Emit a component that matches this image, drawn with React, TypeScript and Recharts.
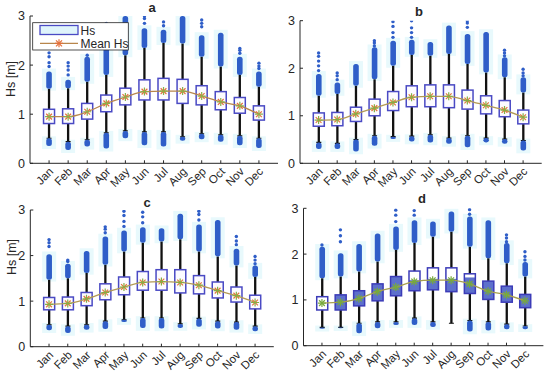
import React from 'react';
import { ComposedChart, Bar, Line, Scatter, XAxis, YAxis } from 'recharts';

const FONT = '"Liberation Sans", Arial, Helvetica, sans-serif';
const MONTHS = ['Jan', 'Feb', 'Mar', 'Apr', 'May', 'Jun', 'Jul', 'Aug', 'Sep', 'Oct', 'Nov', 'Dec'];
const MONTH_X = [1, 2, 3, 4, 5, 6, 7, 8, 9, 10, 11, 12];
const Y_TICKS = [0, 1, 2, 3];

// Panel a
const A_Q1 = [0.81, 0.81, 0.90, 1.05, 1.19, 1.29, 1.29, 1.22, 1.19, 1.09, 1.02, 0.88];
const A_Q3 = [1.10, 1.11, 1.22, 1.39, 1.53, 1.70, 1.73, 1.71, 1.58, 1.46, 1.34, 1.17];
const A_MEAN = [0.95, 0.95, 1.05, 1.22, 1.35, 1.46, 1.47, 1.47, 1.37, 1.25, 1.17, 1.00];
const A_HI = [1.52, 1.53, 1.66, 1.80, 2.20, 2.35, 2.45, 2.44, 2.17, 1.97, 1.80, 1.56];
const A_UPTOP = [1.87, 1.70, 2.17, 2.60, 3.00, 2.75, 2.72, 3.00, 2.61, 2.66, 2.17, 1.87];
const A_LO = [0.51, 0.44, 0.48, 0.62, 0.66, 0.64, 0.64, 0.54, 0.60, 0.58, 0.56, 0.51];
const A_LOMIN = [0.35, 0.27, 0.34, 0.30, 0.51, 0.37, 0.34, 0.46, 0.49, 0.44, 0.37, 0.31];
const A_SPARSE = [
  [1.97, 2.05, 2.17, 2.25], [1.80, 1.90, 1.98, 2.05], [2.20], [2.70, 2.85], [2.85, 2.95],
  [2.85, 2.95, 3.0], [2.80, 2.88], [], [2.78, 2.85, 2.92], [], [2.24, 2.30, 2.34], [1.93, 1.98, 2.04],
];

// Panel b
const B_Q1 = [0.78, 0.79, 0.88, 1.00, 1.11, 1.19, 1.19, 1.17, 1.14, 1.04, 0.98, 0.83];
const B_Q3 = [1.06, 1.07, 1.18, 1.35, 1.51, 1.63, 1.65, 1.65, 1.54, 1.42, 1.32, 1.12];
const B_MEAN = [0.91, 0.92, 1.04, 1.16, 1.28, 1.39, 1.41, 1.41, 1.32, 1.22, 1.12, 0.97];
const B_HI = [1.42, 1.46, 1.63, 1.77, 2.05, 2.28, 2.26, 2.30, 2.09, 1.91, 1.81, 1.49];
const B_UPTOP = [1.88, 1.70, 2.09, 2.44, 2.58, 2.60, 2.55, 2.90, 2.72, 2.76, 2.23, 1.81];
const B_LO = [0.44, 0.42, 0.50, 0.58, 0.56, 0.57, 0.60, 0.53, 0.58, 0.53, 0.51, 0.48];
const B_LOMIN = [0.30, 0.30, 0.25, 0.37, 0.51, 0.46, 0.44, 0.41, 0.34, 0.44, 0.41, 0.27];
const B_SPARSE = [
  [1.95, 2.05, 2.15, 2.25, 2.32], [1.76, 1.84, 1.90], [], [2.47, 2.53, 2.58], [2.65, 2.75, 2.88, 2.98],
  [2.65, 2.75, 2.85, 3.0], [], [], [2.86, 2.95, 3.0], [], [2.26, 2.32, 2.38], [1.84, 1.90, 1.98],
];

// Panel c
const C_Q1 = [0.81, 0.81, 0.90, 1.03, 1.14, 1.24, 1.24, 1.18, 1.16, 1.07, 0.98, 0.83];
const C_Q3 = [1.08, 1.09, 1.19, 1.38, 1.53, 1.65, 1.69, 1.69, 1.56, 1.42, 1.31, 1.13];
const C_MEAN = [0.93, 0.95, 1.05, 1.19, 1.31, 1.41, 1.43, 1.41, 1.35, 1.23, 1.12, 0.97];
const C_HI = [1.47, 1.50, 1.62, 1.80, 2.09, 2.28, 2.31, 2.36, 2.09, 1.98, 1.78, 1.53];
const C_UPTOP = [2.03, 1.82, 2.10, 2.42, 2.55, 2.62, 2.60, 2.92, 2.68, 2.78, 2.15, 1.78];
const C_LO = [0.48, 0.45, 0.48, 0.56, 0.59, 0.63, 0.63, 0.50, 0.62, 0.56, 0.54, 0.45];
const C_LOMIN = [0.36, 0.30, 0.37, 0.39, 0.54, 0.41, 0.40, 0.41, 0.44, 0.40, 0.37, 0.34];
const C_SPARSE = [
  [2.20, 2.28, 2.35], [1.87, 1.90], [], [2.50, 2.58, 2.63], [2.64, 2.75, 2.88, 2.97],
  [2.72, 2.85, 2.95], [], [], [2.78, 2.90, 2.97], [], [2.24, 2.32, 2.42], [1.82, 1.90, 1.98],
];

// Panel d
const D_Q1 = [0.78, 0.78, 0.87, 0.98, 1.09, 1.20, 1.22, 1.18, 1.14, 1.01, 0.95, 0.83];
const D_Q3 = [1.07, 1.11, 1.20, 1.35, 1.51, 1.63, 1.70, 1.70, 1.57, 1.41, 1.30, 1.12];
const D_FILLTOP = [0.78, 1.11, 1.20, 1.35, 1.51, 1.43, 1.46, 1.46, 1.49, 1.41, 1.30, 1.12];
const D_MEAN = [0.93, 0.95, 1.03, 1.18, 1.28, 1.40, 1.43, 1.43, 1.35, 1.19, 1.11, 0.98];
const D_HI = [1.47, 1.51, 1.62, 1.84, 2.09, 2.24, 2.38, 2.49, 2.16, 1.91, 1.80, 1.51];
const D_UPTOP = [2.16, 2.02, 2.22, 2.45, 2.60, 2.74, 2.71, 2.93, 2.82, 2.74, 2.24, 1.83];
const D_LO = [0.40, 0.40, 0.49, 0.52, 0.52, 0.60, 0.52, 0.49, 0.55, 0.52, 0.47, 0.43];
const D_LOMIN = [0.37, 0.38, 0.27, 0.38, 0.45, 0.45, 0.41, 0.49, 0.31, 0.33, 0.36, 0.36];
const D_SPARSE = [
  [2.20], [2.27, 2.40, 2.53], [], [], [2.71, 2.85, 2.96],
  [2.85, 2.95], [], [], [2.87, 2.97], [], [2.27, 2.35, 2.42], [1.87, 1.95, 2.05],
];

const OUT_BLUE = '#2f5ec8';
const HALO = '#e8f9fc';
const AXIS = '#262626';

function buildRows(q1: number[], q3: number[], mean: number[], hi: number[], upTop: number[], lo: number[], loMin: number[], fillTop?: number[]) {
  return MONTHS.map((m, i) => ({
    x: MONTH_X[i], month: m, q1: q1[i], q3: q3[i], box: [q1[i], q3[i]], mean: mean[i],
    hi: hi[i], upTop: upTop[i], lo: lo[i], loMin: loMin[i], fillTop: fillTop ? fillTop[i] : q1[i],
  }));
}
function buildSparse(sp: number[][]) {
  const out: { x: number; v: number }[] = [];
  sp.forEach((list, i) => list.forEach((v) => out.push({ x: MONTH_X[i], v })));
  return out;
}

function makeBoxShape(theme: any) {
  return (props: any) => {
    const { x, y, width, height, payload } = props;
    if (x == null || payload == null) return null;
    const cx = x + width / 2;
    const top = Math.min(y, y + height);
    const h = Math.abs(height);
    const span = payload.q3 - payload.q1;
    if (!(span > 0) || !(h > 0)) return null;
    const ppu = h / span;
    const py = (v: number) => top + (payload.q3 - v) * ppu;
    const hw = 7;
    const dw = 2.8;
    const upTop = Math.min(3, payload.upTop);
    const haloTop = py(Math.min(3.02, upTop + 0.06));
    return (
      <g>
        <rect x={cx - hw} y={haloTop} width={hw * 2} height={py(payload.hi - 0.04) - haloTop} fill={HALO} />
        {payload.loMin < payload.lo && (
          <rect x={cx - hw} y={py(payload.lo + 0.04)} width={hw * 2} height={py(payload.loMin - 0.06) - py(payload.lo + 0.04)} fill={HALO} />
        )}
        <line x1={cx} x2={cx} y1={py(payload.lo)} y2={py(payload.hi)} stroke="#111" strokeWidth={2.3} />
        <line x1={cx - 2.5} x2={cx + 2.5} y1={py(payload.lo)} y2={py(payload.lo)} stroke="#111" strokeWidth={1.2} />
        {payload.loMin < payload.lo && (
          <rect x={cx - dw} y={py(payload.lo)} width={dw * 2} height={py(payload.loMin) - py(payload.lo)} rx={2.5} fill={OUT_BLUE} />
        )}
        <rect x={cx - dw} y={py(upTop)} width={dw * 2} height={py(payload.hi) - py(upTop)} rx={2.5} fill={OUT_BLUE} />
        <rect x={x} y={top} width={width} height={h} fill={theme.boxFill} />
        {payload.fillTop > payload.q1 && (
          <rect x={x} y={py(payload.fillTop)} width={width} height={py(payload.q1) - py(payload.fillTop)} fill={theme.fillColor} />
        )}
        <rect x={x} y={top} width={width} height={h} fill="none" stroke={theme.boxStroke} strokeWidth={1.5} />
      </g>
    );
  };
}

function makeStar(theme: any) {
  return (props: any) => {
    const { cx, cy, index } = props;
    if (cx == null || cy == null) return <g key={index} />;
    const r = 4;
    const d = r * 0.72;
    return (
      <g key={index}>
        <line x1={cx - d} y1={cy - d} x2={cx + d} y2={cy + d} stroke={theme.starX} strokeWidth={1.2} />
        <line x1={cx - d} y1={cy + d} x2={cx + d} y2={cy - d} stroke={theme.starX} strokeWidth={1.2} />
        <line x1={cx - r} y1={cy} x2={cx + r} y2={cy} stroke={theme.starPlus} strokeWidth={1.2} />
        <line x1={cx} y1={cy - r} x2={cx} y2={cy + r} stroke={theme.starPlus} strokeWidth={1.2} />
      </g>
    );
  };
}

const OutDot = (props: any) => {
  const { cx, cy } = props;
  if (cx == null || cy == null) return null;
  return <circle cx={cx} cy={cy} r={1.7} fill={OUT_BLUE} />;
};

const MonthTick = (props: any) => {
  const { x, y, payload } = props;
  return (
    <text transform={`translate(${x + 5},${y + 9}) rotate(-45)`} textAnchor="end" fontSize={11.5} fill={AXIS} fontFamily={FONT}>
      {MONTHS[payload.value - 1]}
    </text>
  );
};

function Panel(p: any) {
  const { L, T, W, H, plotLeft, plotRight, plotTop, plotBottom, rows, sparse, theme } = p;
  const margin = { top: plotTop - T, right: L + W - plotRight, bottom: 0, left: 0 };
  return (
    <div style={{ position: 'absolute', left: L, top: T, width: W, height: H }}>
      <ComposedChart width={W} height={H} data={rows} margin={margin}>
        <XAxis dataKey="x" type="number" domain={[0, 13]} ticks={MONTH_X} interval={0} allowDataOverflow
          height={T + H - plotBottom} tick={<MonthTick />} tickSize={-3} tickMargin={3}
          axisLine={{ stroke: AXIS }} tickLine={{ stroke: AXIS }} />
        <YAxis type="number" domain={[0, 3]} ticks={Y_TICKS} allowDataOverflow width={plotLeft - L}
          tickSize={-3} tickMargin={8} axisLine={{ stroke: AXIS }} tickLine={{ stroke: AXIS }}
          tick={{ fontSize: 12.5, fill: AXIS, fontFamily: FONT }} />
        <Bar dataKey="box" barSize={11} shape={makeBoxShape(theme)} isAnimationActive={false} />
        <Scatter data={sparse} dataKey="v" shape={<OutDot />} isAnimationActive={false} />
        <Line dataKey="mean" type="monotone" stroke={theme.line} strokeWidth={1.3} dot={makeStar(theme)} activeDot={false} isAnimationActive={false} />
      </ComposedChart>
    </div>
  );
}

const THEME_A = { boxFill: '#fcfbff', fillColor: 'none', boxStroke: '#4a4ac4', line: '#b8864c', starX: '#e4703a', starPlus: '#8ab04a' };
const THEME_BC = { boxFill: '#fcfbff', fillColor: 'none', boxStroke: '#4a4ac4', line: '#b39a55', starX: '#e0783a', starPlus: '#86ae44' };
const THEME_D = { boxFill: '#ffffff', fillColor: '#5d70cc', boxStroke: '#3c3cb8', line: '#a9a04e', starX: '#78aa3c', starPlus: '#78aa3c' };

export default function App() {
  const rowsA = buildRows(A_Q1, A_Q3, A_MEAN, A_HI, A_UPTOP, A_LO, A_LOMIN);
  const rowsB = buildRows(B_Q1, B_Q3, B_MEAN, B_HI, B_UPTOP, B_LO, B_LOMIN);
  const rowsC = buildRows(C_Q1, C_Q3, C_MEAN, C_HI, C_UPTOP, C_LO, C_LOMIN);
  const rowsD = buildRows(D_Q1, D_Q3, D_MEAN, D_HI, D_UPTOP, D_LO, D_LOMIN, D_FILLTOP);
  return (
    <div style={{ position: 'absolute', left: 0, top: 0, width: 550, height: 380, background: '#fff', overflow: 'hidden', fontFamily: FONT }}>
      <Panel L={0} T={0} W={282} H={190} plotLeft={30} plotRight={278} plotTop={16} plotBottom={163.3} rows={rowsA} sparse={buildSparse(A_SPARSE)} theme={THEME_A} />
      <Panel L={275} T={0} W={275} H={190} plotLeft={300} plotRight={541.7} plotTop={20.7} plotBottom={163.3} rows={rowsB} sparse={buildSparse(B_SPARSE)} theme={THEME_BC} />
      <Panel L={0} T={190} W={282} H={190} plotLeft={30.3} plotRight={273.8} plotTop={210} plotBottom={346.7} rows={rowsC} sparse={buildSparse(C_SPARSE)} theme={THEME_BC} />
      <Panel L={275} T={190} W={275} H={190} plotLeft={303.5} plotRight={543.4} plotTop={208.3} plotBottom={345.7} rows={rowsD} sparse={buildSparse(D_SPARSE)} theme={THEME_D} />
      <svg width={550} height={380} style={{ position: 'absolute', left: 0, top: 0, pointerEvents: 'none' }}>
        <g fontFamily={FONT} fill={AXIS}>
          <text x={152} y={12} fontSize={13} fontWeight="bold" textAnchor="middle">a</text>
          <text x={419} y={15.5} fontSize={13} fontWeight="bold" textAnchor="middle">b</text>
          <text x={147} y={206.5} fontSize={13} fontWeight="bold" textAnchor="middle">c</text>
          <text x={422} y={203} fontSize={13} fontWeight="bold" textAnchor="middle">d</text>
          <text transform="translate(15,79) rotate(-90)" fontSize={12.5} textAnchor="middle">Hs [m]</text>
          <text transform="translate(15.5,257) rotate(-90)" fontSize={12.5} textAnchor="middle">Hs [m]</text>
        </g>
        <g>
          <rect x={32.7} y={22.7} width={95.6} height={27.3} fill="#fff" stroke={AXIS} strokeWidth={0.8} />
          <rect x={40} y={25.5} width={38} height={9} fill="#dff4fb" stroke="#4a4ac4" strokeWidth={1.3} />
          <text x={80.5} y={35} fontSize={12} fontFamily={FONT} fill={AXIS}>Hs</text>
          <line x1={40} x2={78} y1={43.3} y2={43.3} stroke="#b8864c" strokeWidth={1.3} />
          <line x1={56} y1={40.3} x2={62} y2={46.3} stroke="#e4703a" strokeWidth={1.2} />
          <line x1={56} y1={46.3} x2={62} y2={40.3} stroke="#e4703a" strokeWidth={1.2} />
          <line x1={55} y1={43.3} x2={63} y2={43.3} stroke="#e4703a" strokeWidth={1.2} />
          <line x1={59} y1={39.3} x2={59} y2={47.3} stroke="#e4703a" strokeWidth={1.2} />
          <text x={80.5} y={47.5} fontSize={12} fontFamily={FONT} fill={AXIS}>Mean Hs</text>
        </g>
      </svg>
    </div>
  );
}
